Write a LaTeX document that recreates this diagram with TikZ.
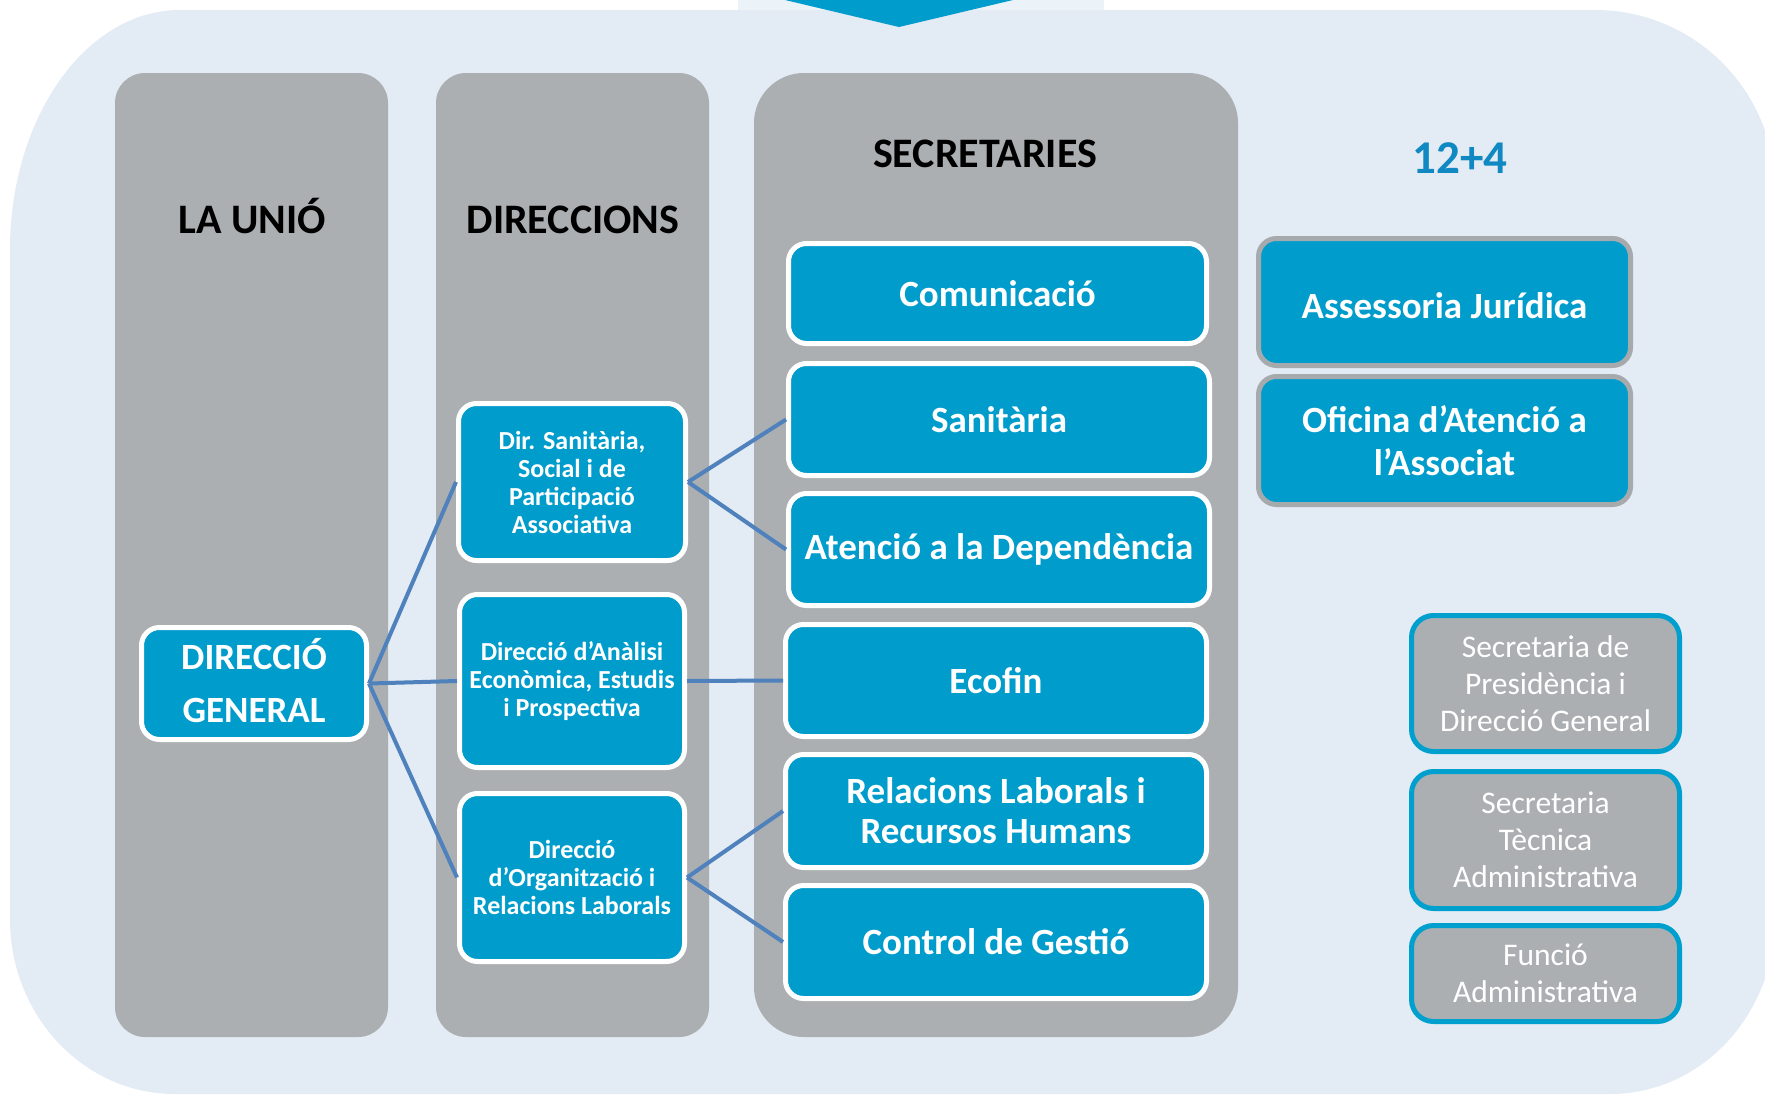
\documentclass[tikz,border=0pt]{standalone}
\usepackage{fontspec}
\setmainfont{Carlito}
\definecolor{bgc}{HTML}{E3EBF4}
\definecolor{toprect}{HTML}{EBF3F9}
\definecolor{colgrey}{HTML}{ABAFB1}
\definecolor{ublue}{HTML}{009CCB}
\definecolor{connc}{HTML}{4F81BD}
\definecolor{numc}{HTML}{1089C3}
\definecolor{gborder}{HTML}{A7AAAD}
\definecolor{bborder}{HTML}{00A0CE}
\tikzset{
  colbox/.style={rectangle, fill=colgrey, rounded corners=30pt, inner sep=0pt},
  header/.style={anchor=base, inner sep=0pt, font=\bfseries\fontsize{42}{50}\selectfont},
  bluebox/.style={rectangle, rounded corners=18pt, fill=ublue, draw=white, line width=5pt,
    text=white, align=center, inner sep=0pt, font=\bfseries\fontsize{37}{40}\selectfont},
  dirbox/.style={bluebox, font=\bfseries\fontsize{26}{28}\selectfont},
  sidebox/.style={bluebox, draw=gborder, font=\bfseries\fontsize{37}{43}\selectfont},
  greybox/.style={rectangle, rounded corners=22pt, fill=colgrey, draw=bborder, line width=5pt,
    text=white, align=center, inner sep=0pt, font=\fontsize{31.5}{37}\selectfont},
  conn/.style={draw=connc, line width=4pt}
}
\begin{document}
\begin{tikzpicture}[x=1pt,y=-1pt]
\useasboundingbox (0,0) rectangle (1765,1095);
% background
\fill[bgc] (10,250) .. controls (10,117.4) and (86.1,10) .. (180,10)
  -- (1595,10) .. controls (1694.4,10) and (1775,90.6) .. (1775,190)
  -- (1775,918) .. controls (1775,1015.2) and (1701.1,1094) .. (1610,1094)
  -- (175,1094) .. controls (83.9,1094) and (10,1015.7) .. (10,919) -- cycle;
% top arrow
\fill[toprect] (738,0) rectangle (1104,10);
\fill[ublue] (785,0) -- (1013,0) -- (899,27) -- cycle;
% columns
\node[colbox, minimum width=273pt, minimum height=964pt] (c1) at (251.5,555) {};
\node[colbox, minimum width=273pt, minimum height=964pt] (c2) at (572.5,555) {};
\node[colbox, rounded corners=50pt, minimum width=484pt, minimum height=964pt] (c3) at (996,555) {};
% headers
\node[header] (h1) at (252,233) {LA UNIÓ};
\node[header] (h2) at (573,233) {DIRECCIONS};
\node[header] (h3) at (985,167) {SECRETARIES};
\node[header, text=numc, font=\bfseries\fontsize{47}{50}\selectfont] (h4) at (1460,173) {12+4};
% direccio general
\node[bluebox, minimum width=225pt, minimum height=112pt, font=\bfseries\fontsize{37}{53}\selectfont] (dg) at (254,683.5) {DIRECCIÓ\\GENERAL\rule[-7pt]{0pt}{7pt}};
% direccions
\node[dirbox, minimum width=227pt, minimum height=157pt] (d1) at (572,482) {Dir. Sanitària,\\Social i de\\Participació\\Associativa};
\node[dirbox, minimum width=225pt, minimum height=173pt] (d2) at (572,681) {Direcció d’Anàlisi\\Econòmica, Estudis\\i Prospectiva};
\node[dirbox, minimum width=225pt, minimum height=168pt] (d3) at (572,877.5) {Direcció\\d’Organització i\\Relacions Laborals};
% secretaries
\node[bluebox, minimum width=418pt, minimum height=100pt] (s1) at (997.5,293.5) {Comunicació};
\node[bluebox, minimum width=421pt, minimum height=112pt] (s2) at (999,419.5) {Sanitària};
\node[bluebox, minimum width=421pt, minimum height=112pt] (s3) at (999,549.5) {Atenció a la Dependència};
\node[bluebox, minimum width=421pt, minimum height=112pt] (s4) at (996,680.5) {Ecofin};
\node[bluebox, minimum width=421pt, minimum height=113pt] (s5) at (996,811) {Relacions Laborals i\\Recursos Humans};
\node[bluebox, minimum width=421pt, minimum height=113pt] (s6) at (996,942) {Control de Gestió};
% side boxes
\node[sidebox, minimum width=372pt, minimum height=127pt] (a1) at (1444.5,302) {\raisebox{0pt}[\dimexpr\height+7pt\relax]{Assessoria Jurídica}};
\node[sidebox, minimum width=372pt, minimum height=128pt] (a2) at (1444.5,440.5) {Oficina d’Atenció a\\l’Associat};
% grey boxes
\node[greybox, minimum width=268pt, minimum height=136pt] (g1) at (1545.5,683.5) {Secretaria de\\Presidència i\\Direcció General};
\node[greybox, minimum width=268pt, minimum height=137pt] (g2) at (1545.5,840) {Secretaria\\Tècnica\\Administrativa};
\node[greybox, minimum width=268pt, minimum height=96pt] (g3) at (1545.5,973.5) {Funció\\Administrativa};
% connectors
\draw[conn] (dg.east) -- (d1.west);
\draw[conn] (dg.east) -- (d2.west);
\draw[conn] (dg.east) -- (d3.west);
\draw[conn] (d1.east) -- (s2.west);
\draw[conn] (d1.east) -- (s3.west);
\draw[conn] (d2.east) -- (s4.west);
\draw[conn] (d3.east) -- (s5.west);
\draw[conn] (d3.east) -- (s6.west);
\end{tikzpicture}
\end{document}
